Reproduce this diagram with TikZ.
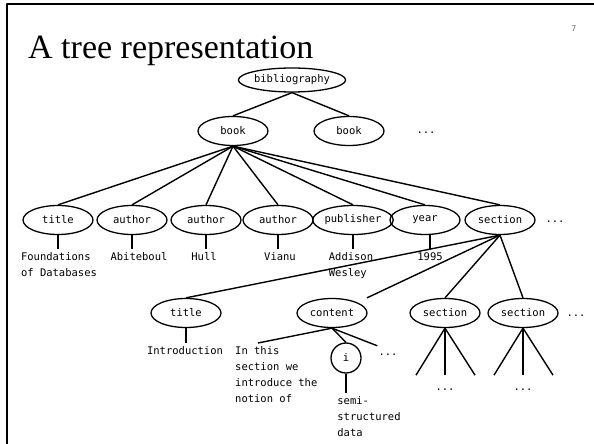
\documentclass[tikz,border=0pt]{standalone}
\usepackage{fontspec}
\setmainfont{Liberation Serif}
\newfontfamily\treefont{DejaVu Sans Mono}
\newfontfamily\pagefont{DejaVu Sans}
\usetikzlibrary{shapes.geometric}
\tikzset{
  tag/.style={draw, ellipse, line width=1.3bp, minimum width=70bp, minimum height=29bp,
    inner sep=0pt, font=\treefont\fontsize{10.5bp}{16bp}\selectfont},
  leaf/.style={anchor=north, align=left, inner xsep=0pt, inner ysep=3.5bp,
    font=\treefont\fontsize{10.5bp}{16bp}\selectfont},
  more/.style={anchor=base, inner sep=1bp, text height=8bp,
    font=\treefont\fontsize{10.5bp}{16bp}\selectfont},
  edge/.style={line width=1.4bp},
  stub/.style={line width=2bp},
}
\begin{document}
\begin{tikzpicture}[x=1bp,y=-1bp,line join=bevel,]
\useasboundingbox (0,0) rectangle (594,444);
%%
  % Frame
  \draw [line width=2bp] (594,4) -- (7,4) -- (7,444);
  \node [anchor=base west, inner sep=0pt, font=\fontsize{34bp}{34bp}\selectfont] (heading) at (28,59) {A tree representation};
  \node [inner sep=0pt, text=black!55, font=\pagefont\fontsize{8bp}{8bp}\selectfont] (pageno) at (574,29) {7};
%%
  % Node: bibliography
  \node [tag, minimum width=89bp, minimum height=24bp] (bib) at (292,80) {bibliography};
  % Node: books
  \node [tag] (book1) at (233,131) {book};
  \node [tag] (book2) at (349,131) {book};
  \node [more] (dots1) at (426,134) {...};
  % Node: children of book1
  \node [tag] (title1) at (58,220) {title};
  \node [tag] (author1) at (132,220) {author};
  \node [tag] (author2) at (206,220) {author};
  \node [tag] (author3) at (278,220) {author};
  \node [tag, minimum width=73bp] (publisher) at (353,220) {publisher};
  \node [tag] (year) at (425,220) {year};
  \node [tag] (section1) at (500,220) {section};
  \node [more] (dots2) at (555,223) {...};
  % Node: values
  \node [leaf] (fdb) at (59,249) {Foundations\\of Databases};
  \node [leaf] (abiteboul) at (139,249) {Abiteboul};
  \node [leaf] (hull) at (204,249) {Hull};
  \node [leaf] (vianu) at (280,249) {Vianu};
  \node [leaf] (addison) at (351,249) {Addison\\Wesley};
  \node [leaf] (yearval) at (430,249) {1995};
  % Node: children of section1
  \node [tag] (title2) at (186,313) {title};
  \node [tag] (content) at (332,313) {content};
  \node [tag] (section2) at (445,313) {section};
  \node [tag] (section3) at (523,313) {section};
  \node [more] (dots3) at (576,316) {...};
  \node [leaf] (intro) at (185,343) {Introduction};
  \node [leaf, anchor=north west] (para) at (235,343) {In this\\section we\\introduce the\\notion of};
  \node [draw, circle, line width=1.3bp, minimum size=30bp, inner sep=0pt,
    font=\treefont\fontsize{10.5bp}{16bp}\selectfont] (ielem) at (346,358) {i};
  \node [more] (dots4) at (388,355) {...};
  \node [leaf] (semi) at (369,393) {semi-\\structured\\data};
  \node [more] (dots5) at (445,390) {...};
  \node [more] (dots6) at (523,390) {...};
%%
  % Edge: bibliography -> book
  \draw [edge] (bib.south) -- (book1.north);
  \draw [edge] (bib.south) -- (book2.north);
  % Edge: book1 -> fields
  \foreach \kid in {title1,author1,author2,author3,publisher,year,section1}
    \draw [edge] (book1.south) -- (\kid.north);
  % Edge: fields -> values
  \draw [stub] (title1.south) -- (title1.south |- fdb.north);
  \draw [stub] (author1.south) -- (author1.south |- abiteboul.north);
  \draw [stub] (author2.south) -- (author2.south |- hull.north);
  \draw [stub] (author3.south) -- (author3.south |- vianu.north);
  \draw [stub] (publisher.south) -- (publisher.south |- addison.north);
  \draw [stub] (yearval.north |- year.south) -- (yearval.north);
  % Edge: section1 -> parts
  \draw [edge] (section1.south) -- (title2.north);
  \draw [edge] (section1.south) -- ([xshift=35bp]content.north);
  \draw [edge] (section1.south) -- (section2.north);
  \draw [edge] (section1.south) -- (section3.north);
  \draw [stub] (title2.south) -- (title2.south |- intro.north);
  % Edge: content -> mixed text
  \draw [edge] (content.south) -- ([xshift=23bp]para.north west);
  \draw [edge] (content.south) -- (ielem.north);
  \draw [edge] (content.south) -- (dots4.north west);
  \draw [stub] (ielem.south) -- (ielem.south |- semi.north);
  % Edge: sub sections -> unknown
  \foreach \s in {section2,section3}
    \foreach \dx in {-29,0,30}
      \draw [edge] (\s.south) -- ++(\dx,47);
%
\end{tikzpicture}
\end{document}
